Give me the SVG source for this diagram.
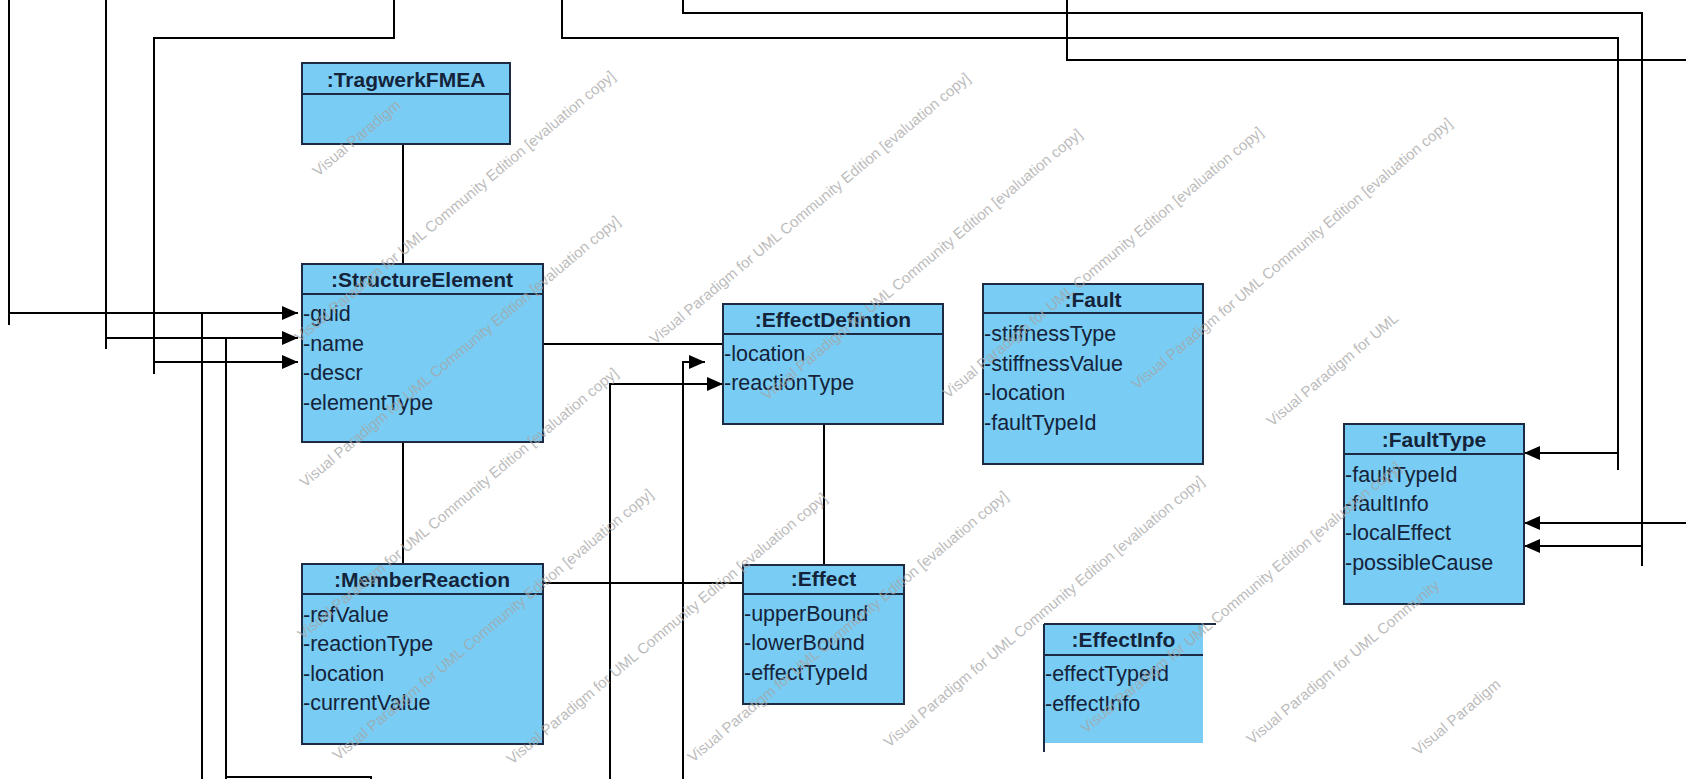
<svg xmlns="http://www.w3.org/2000/svg" width="1686" height="779" viewBox="0 0 1686 779">
<style>
.bg{fill:#ffffff}
.box{fill:#79CDF4;stroke:#1c2a44;stroke-width:2}
.sep{stroke:#1c2a44;stroke-width:2}
.t{font-family:"Liberation Sans",Arial,sans-serif;font-size:21.5px;fill:#14233a}
.title{font-weight:bold;text-anchor:middle;font-size:21px}
.c{stroke:#000;stroke-width:2;fill:none}
.a{stroke:#000;stroke-width:2;fill:none;marker-end:url(#arr)}
.wm{font-family:"Liberation Sans",Arial,sans-serif;font-size:15px;fill:#a6a6a6;opacity:0.75}
</style>
<defs>
<marker id="arr" markerUnits="userSpaceOnUse" markerWidth="16" markerHeight="14" refX="16" refY="7" orient="auto">
<path d="M0,0 L16,7 L0,14 z" fill="#000"/>
</marker>
</defs>
<rect class="bg" x="0" y="0" width="1686" height="779"/>

<g id="connectors">
<path class="a" d="M9,0 V313 H298"/>
<path class="c" d="M9,313 V325"/>
<path class="a" d="M106,0 V338 H298"/>
<path class="c" d="M106,338 V349"/>
<path class="a" d="M394,0 V38 H154 V362 H298"/>
<path class="c" d="M154,362 V374"/>
<path class="a" d="M562,0 V38 H1618 V453 H1524"/>
<path class="c" d="M1618,453 V470"/>
<path class="a" d="M683,0 V13 H1642 V546 H1524"/>
<path class="c" d="M1642,546 V566"/>
<path class="a" d="M1686,523 H1524"/>
<path class="c" d="M1067,0 V60 H1686"/>
<path class="c" d="M202,779 V313"/>
<path class="c" d="M226,338 V779"/>
<path class="c" d="M226,777 H371 V779"/>
<path class="a" d="M610,779 V384 H723"/>
<path class="a" d="M683,779 V362 H705"/>
<path class="c" d="M403,144 V264"/>
<path class="c" d="M403,442 V564"/>
<path class="c" d="M543,344 H723"/>
<path class="c" d="M543,583 H743"/>
<path class="c" d="M824,424 V565"/>
</g>

<g id="TragwerkFMEA">
<rect class="box" x="302" y="63" width="208" height="81"/>
<line class="sep" x1="302" y1="94" x2="510" y2="94"/>
<text class="t title" x="406" y="87">:TragwerkFMEA</text>
</g>

<g id="StructureElement">
<rect class="box" x="302" y="264" width="241" height="178"/>
<line class="sep" x1="302" y1="294" x2="543" y2="294"/>
<text class="t title" x="422" y="287">:StructureElement</text>
<text class="t" x="303" y="321">-guid</text>
<text class="t" x="303" y="351">-name</text>
<text class="t" x="303" y="380">-descr</text>
<text class="t" x="303" y="410">-elementType</text>
</g>

<g id="EffectDefintion">
<rect class="box" x="723" y="304" width="220" height="120"/>
<line class="sep" x1="723" y1="334" x2="943" y2="334"/>
<text class="t title" x="833" y="327">:EffectDefintion</text>
<text class="t" x="724" y="361">-location</text>
<text class="t" x="724" y="390">-reactionType</text>
</g>

<g id="Fault">
<rect class="box" x="983" y="284" width="220" height="180"/>
<line class="sep" x1="983" y1="313" x2="1203" y2="313"/>
<text class="t title" x="1093" y="307">:Fault</text>
<text class="t" x="984" y="341">-stiffnessType</text>
<text class="t" x="984" y="371">-stiffnessValue</text>
<text class="t" x="984" y="400">-location</text>
<text class="t" x="984" y="430">-faultTypeId</text>
</g>

<g id="FaultType">
<rect class="box" x="1344" y="424" width="180" height="180"/>
<line class="sep" x1="1344" y1="454" x2="1524" y2="454"/>
<text class="t title" x="1434" y="447">:FaultType</text>
<text class="t" x="1345" y="482">-faultTypeId</text>
<text class="t" x="1345" y="511">-faultInfo</text>
<text class="t" x="1345" y="540">-localEffect</text>
<text class="t" x="1345" y="570">-possibleCause</text>
</g>

<g id="MemberReaction">
<rect class="box" x="302" y="564" width="241" height="180"/>
<line class="sep" x1="302" y1="594" x2="543" y2="594"/>
<text class="t title" x="422" y="587">:MemberReaction</text>
<text class="t" x="303" y="622">-refValue</text>
<text class="t" x="303" y="651">-reactionType</text>
<text class="t" x="303" y="681">-location</text>
<text class="t" x="303" y="710">-currentValue</text>
</g>

<g id="Effect">
<rect class="box" x="743" y="565" width="161" height="139"/>
<line class="sep" x1="743" y1="594" x2="904" y2="594"/>
<text class="t title" x="823.5" y="586">:Effect</text>
<text class="t" x="744" y="621">-upperBound</text>
<text class="t" x="744" y="650">-lowerBound</text>
<text class="t" x="744" y="680">-effectTypeId</text>
</g>

<g id="EffectInfo">
<rect x="1044" y="624" width="159" height="119" fill="#79CDF4"/>
<line class="sep" x1="1044" y1="624" x2="1216" y2="624"/>
<line class="sep" x1="1044" y1="655" x2="1203" y2="655"/>
<line class="sep" x1="1044" y1="624" x2="1044" y2="752"/>
<text class="t title" x="1123.5" y="647">:EffectInfo</text>
<text class="t" x="1045" y="681">-effectTypeId</text>
<text class="t" x="1045" y="711">-effectInfo</text>
</g>

<g id="watermark">
<text class="wm" x="318" y="177" transform="rotate(-40 318 177)">Visual Paradigm</text>
<text class="wm" x="300" y="343" transform="rotate(-40 300 343)">Visual Paradigm for UML Community Edition [evaluation copy]</text>
<text class="wm" x="305" y="488" transform="rotate(-40 305 488)">Visual Paradigm for UML Community Edition [evaluation copy]</text>
<text class="wm" x="303" y="640" transform="rotate(-40 303 640)">Visual Paradigm for UML Community Edition [evaluation copy]</text>
<text class="wm" x="655" y="345" transform="rotate(-40 655 345)">Visual Paradigm for UML Community Edition [evaluation copy]</text>
<text class="wm" x="338" y="761" transform="rotate(-40 338 761)">Visual Paradigm for UML Community Edition [evaluation copy]</text>
<text class="wm" x="767" y="401" transform="rotate(-40 767 401)">Visual Paradigm for UML Community Edition [evaluation copy]</text>
<text class="wm" x="512" y="765" transform="rotate(-40 512 765)">Visual Paradigm for UML Community Edition [evaluation copy]</text>
<text class="wm" x="948" y="399" transform="rotate(-40 948 399)">Visual Paradigm for UML Community Edition [evaluation copy]</text>
<text class="wm" x="693" y="763" transform="rotate(-40 693 763)">Visual Paradigm for UML Community Edition [evaluation copy]</text>
<text class="wm" x="1137" y="390" transform="rotate(-40 1137 390)">Visual Paradigm for UML Community Edition [evaluation copy]</text>
<text class="wm" x="889" y="748" transform="rotate(-40 889 748)">Visual Paradigm for UML Community Edition [evaluation copy]</text>
<text class="wm" x="1272" y="427" transform="rotate(-40 1272 427)">Visual Paradigm for UML</text>
<text class="wm" x="1086" y="734" transform="rotate(-40 1086 734)">Visual Paradigm for UML Community Edition [evaluation copy]</text>
<text class="wm" x="1252" y="745" transform="rotate(-40 1252 745)">Visual Paradigm for UML Community</text>
<text class="wm" x="1418" y="756" transform="rotate(-40 1418 756)">Visual Paradigm</text>
</g>
</svg>
